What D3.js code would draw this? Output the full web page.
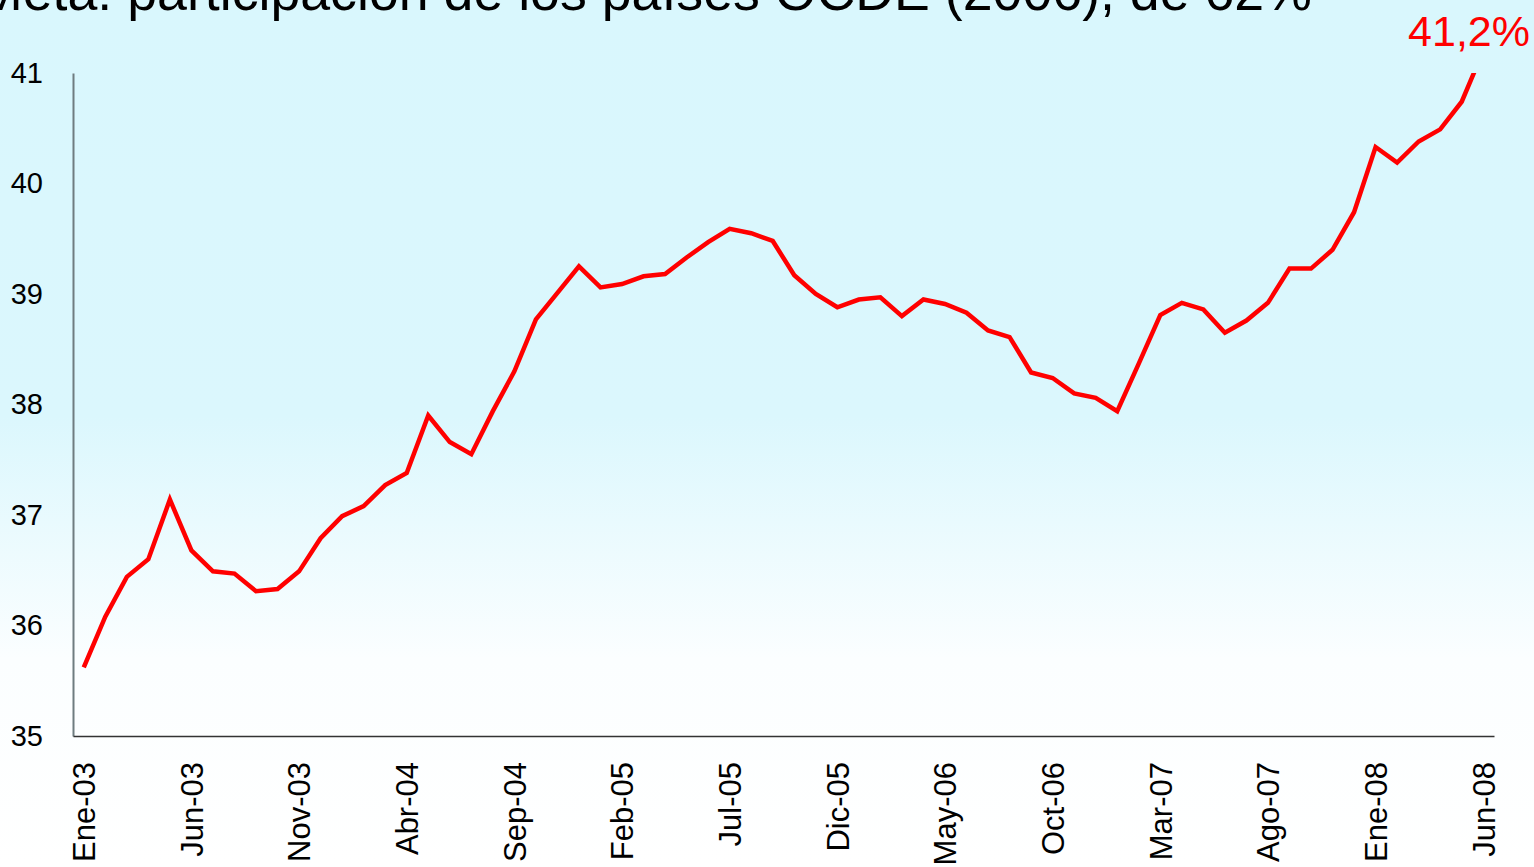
<!DOCTYPE html>
<html>
<head>
<meta charset="utf-8">
<script src="https://cdn.jsdelivr.net/npm/d3@7"></script>
<style>
  html, body { margin: 0; padding: 0; overflow: hidden; }
  body { font-family: "Liberation Sans", Arial, sans-serif; }
</style>
</head>
<body>
<div id="chart"></div>
<script>
// meses (Ene-03 .. Jun-08)
var monthNames = ["Ene","Feb","Mar","Abr","May","Jun","Jul","Ago","Sep","Oct","Nov","Dic"];
var years = ["03","04","05","06","07","08"];
var months = [];
years.forEach(function(y){
    monthNames.forEach(function(m){ months.push(m + "-" + y); });
});
months = months.slice(0, 66);

// participacion (%)
var share = [
    35.62, 36.08, 36.44, 36.60, 37.14, 36.68, 36.49, 36.47, 36.31, 36.33, 36.49, 36.79,
    36.99, 37.08, 37.27, 37.38, 37.90, 37.66, 37.55, 37.94, 38.30, 38.77, 39.01, 39.25,
    39.06, 39.09, 39.16, 39.18, 39.33, 39.47, 39.59, 39.55, 39.48, 39.17, 39.00, 38.88,
    38.95, 38.97, 38.80, 38.95, 38.91, 38.83, 38.67, 38.61, 38.29, 38.24, 38.10, 38.06,
    37.94, 38.37, 38.81, 38.92, 38.86, 38.65, 38.76, 38.92, 39.23, 39.23, 39.40, 39.74,
    40.33, 40.19, 40.38, 40.49, 40.74, 41.2
];

var tickLabels = ["Ene-03","Jun-03","Nov-03","Abr-04","Sep-04","Feb-05","Jul-05",
                  "Dic-05","May-06","Oct-06","Mar-07","Ago-07","Ene-08","Jun-08"];
var yTicks = [35, 36, 37, 38, 39, 40, 41];

var title = "Meta: participación de los países OCDE (2006), de 62%";
var lastLabel = "41,2%";

var width = 1534, height = 867;
var plotLeft = 73, plotRight = 1494, plotTop = 73, plotBottom = 736;

var svg = d3.select("#chart").append("svg")
    .attr("width", width)
    .attr("height", height);

var defs = svg.append("defs");
var grad = defs.append("linearGradient")
    .attr("id", "bg")
    .attr("x1", 0).attr("y1", 0).attr("x2", 0).attr("y2", 1);
grad.append("stop").attr("offset", "0%").attr("stop-color", "#d9f7fd");
grad.append("stop").attr("offset", "48%").attr("stop-color", "#dbf7fd");
grad.append("stop").attr("offset", "76%").attr("stop-color", "#fbfeff");
grad.append("stop").attr("offset", "100%").attr("stop-color", "#ffffff");

defs.append("clipPath")
    .attr("id", "plotClip")
    .append("rect")
    .attr("x", plotLeft)
    .attr("y", plotTop)
    .attr("width", plotRight - plotLeft)
    .attr("height", plotBottom - plotTop);

svg.append("rect")
    .attr("width", width)
    .attr("height", height)
    .attr("fill", "url(#bg)");

var x = d3.scalePoint()
    .domain(months)
    .range([plotLeft, plotRight])
    .padding(0.5);

var y = d3.scaleLinear()
    .domain([35, 41])
    .range([plotBottom, plotTop]);

// titulo (cortado arriba)
svg.append("text")
    .attr("x", -22)
    .attr("y", 10)
    .attr("font-size", 53.7)
    .attr("fill", "#000")
    .text(title);

// eje y
var yAxis = svg.append("g")
    .attr("transform", "translate(" + plotLeft + ",0)")
    .call(d3.axisLeft(y).tickValues(yTicks).tickFormat(d3.format("d")).tickSize(0).tickPadding(30));
yAxis.select(".domain").attr("stroke", "#6f7c80").attr("stroke-width", 2);
yAxis.selectAll("text")
    .attr("font-size", 29)
    .attr("font-family", "Liberation Sans, Arial, sans-serif")
    .attr("fill", "#000");

// eje x
var xAxis = svg.append("g")
    .attr("transform", "translate(0," + plotBottom + ")")
    .call(d3.axisBottom(x).tickValues(tickLabels).tickSize(0).tickSizeOuter(0));
xAxis.select(".domain").attr("stroke", "#333").attr("stroke-width", 1.5);
xAxis.selectAll("text")
    .attr("font-size", 31)
    .attr("font-family", "Liberation Sans, Arial, sans-serif")
    .attr("fill", "#000")
    .attr("text-anchor", "end")
    .attr("transform", "rotate(-90)")
    .attr("x", -26)
    .attr("y", 0)
    .attr("dy", "0.35em");

// linea
var line = d3.line()
    .x(function(d, i){ return x(months[i]); })
    .y(function(d){ return y(d); });

svg.append("path")
    .datum(share)
    .attr("clip-path", "url(#plotClip)")
    .attr("fill", "none")
    .attr("stroke", "#ff0000")
    .attr("stroke-width", 4.5)
    .attr("stroke-linejoin", "miter")
    .attr("d", line);

svg.append("text")
    .attr("x", 1530)
    .attr("y", 46)
    .attr("text-anchor", "end")
    .attr("font-size", 43)
    .attr("fill", "#ff0000")
    .text(lastLabel);
</script>
</body>
</html>
